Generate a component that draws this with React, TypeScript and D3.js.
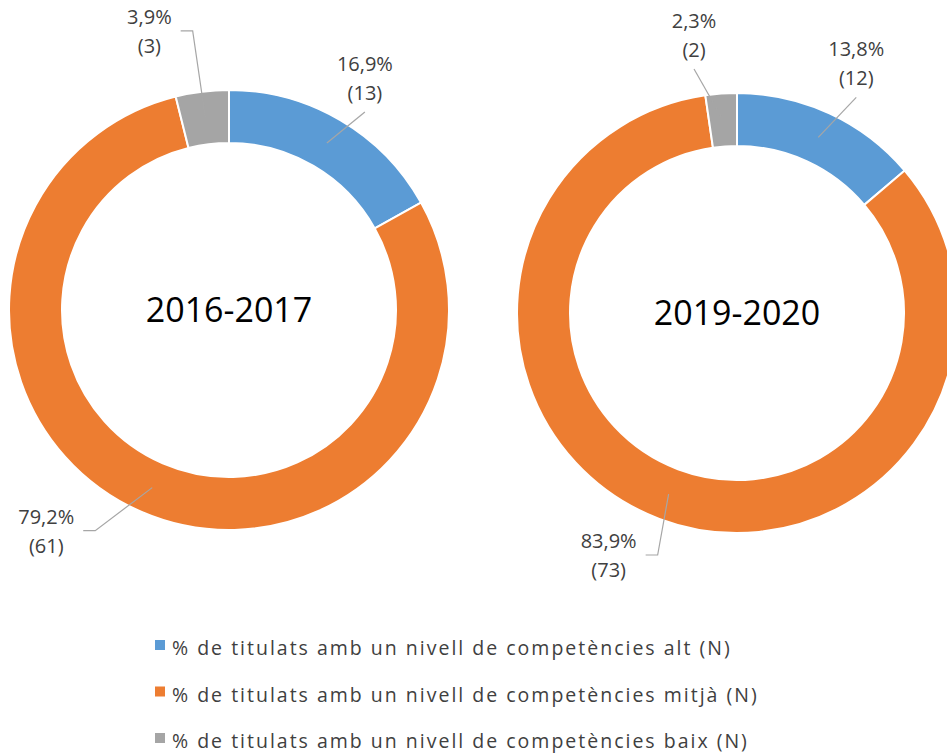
import React, { useEffect, useRef } from "react";
import * as d3 from "d3";

// categories / series
const categories = [
  "% de titulats amb un nivell de competències alt (N)",
  "% de titulats amb un nivell de competències mitjà (N)",
  "% de titulats amb un nivell de competències baix (N)",
];
const periods = ["2016-2017", "2019-2020"];
const counts2016 = [13, 61, 3];
const counts2019 = [12, 73, 2];
const pct2016 = ["16,9%", "79,2%", "3,9%"];
const pct2019 = ["13,8%", "83,9%", "2,3%"];

const colors = ["#5B9BD5", "#ED7D31", "#A5A5A5"];
const FONT = "'Open Sans', 'Noto Sans', sans-serif";
const TEXT = "#404040";

// layout (label nudges relative to slice centroid, leader style)
const donuts = [
  {
    cx: 229, cy: 310,
    counts: counts2016, pct: pct2016, title: periods[0],
    nudge: [[38, -72], [-106, 36], [-56, -94]],
    leader: ["bottom", "side", "side"],
  },
  {
    cx: 737, cy: 313,
    counts: counts2019, pct: pct2019, title: periods[1],
    nudge: [[38, -81], [-60, 54], [-29, -92]],
    leader: ["bottom", "side", "bottom"],
  },
];

const App = () => {
  const ref = useRef(null);

  useEffect(() => {
    const svg = d3.select(ref.current);
    svg.selectAll("*").remove();

    const outerR = 220;
    const innerR = 167;
    const pie = d3.pie().value(d => d).sort(null);
    const arc = d3.arc().innerRadius(innerR).outerRadius(outerR);
    const mid = (innerR + outerR) / 2;

    donuts.forEach(dn => {
      const g = svg.append("g").attr("transform", `translate(${dn.cx},${dn.cy})`);
      const slices = pie(dn.counts);

      g.selectAll("path.slice")
        .data(slices)
        .enter()
        .append("path")
        .attr("class", "slice")
        .attr("d", arc)
        .attr("fill", (d, i) => colors[i])
        .attr("stroke", "#fff")
        .attr("stroke-width", 2);

      g.append("text")
        .attr("x", 0)
        .attr("y", 12)
        .attr("text-anchor", "middle")
        .style("font-family", FONT)
        .style("font-size", "34px")
        .style("fill", "#000")
        .text(dn.title);

      slices.forEach((s, i) => {
        const a = (s.startAngle + s.endAngle) / 2;
        const px = mid * Math.sin(a);
        const py = -mid * Math.cos(a);
        const lx = px + dn.nudge[i][0];
        const ly = py + dn.nudge[i][1];

        const lbl = g.append("g");
        const t1 = lbl.append("text")
          .attr("x", lx).attr("y", ly)
          .attr("text-anchor", "middle")
          .style("font-family", FONT).style("font-size", "20px")
          .style("fill", TEXT)
          .text(dn.pct[i]);
        lbl.append("text")
          .attr("x", lx).attr("y", ly + 29)
          .attr("text-anchor", "middle")
          .style("font-family", FONT).style("font-size", "20px")
          .style("fill", TEXT)
          .text(`(${dn.counts[i]})`);

        const w = t1.node().getComputedTextLength();
        let pts;
        if (dn.leader[i] === "side") {
          const x0 = lx + w / 2 + 9;
          const y0 = ly + 7;
          pts = [[x0, y0], [x0 + 12, y0], [px, py]];
        } else {
          pts = [[lx, ly + 41], [px, py]];
        }
        g.insert("path", "text")
          .attr("d", d3.line()(pts))
          .attr("fill", "none")
          .attr("stroke", "#A6A6A6")
          .attr("stroke-width", 1.2);
      });
    });

    // legend
    const leg = svg.append("g").attr("transform", "translate(155,0)");
    categories.forEach((c, i) => {
      const y = 655 + i * 46.5;
      leg.append("rect")
        .attr("x", 0).attr("y", y - 15)
        .attr("width", 10).attr("height", 10)
        .attr("fill", colors[i]);
      leg.append("text")
        .attr("x", 17).attr("y", y)
        .style("font-family", FONT).style("font-size", "19.5px")
        .style("letter-spacing", "2px")
        .style("fill", TEXT)
        .text(c);
    });
  }, []);

  return (
    <svg
      ref={ref}
      width={947}
      height={754}
      style={{ position: "absolute", left: 0, top: 0, background: "#fff" }}
    />
  );
};

export default App;
